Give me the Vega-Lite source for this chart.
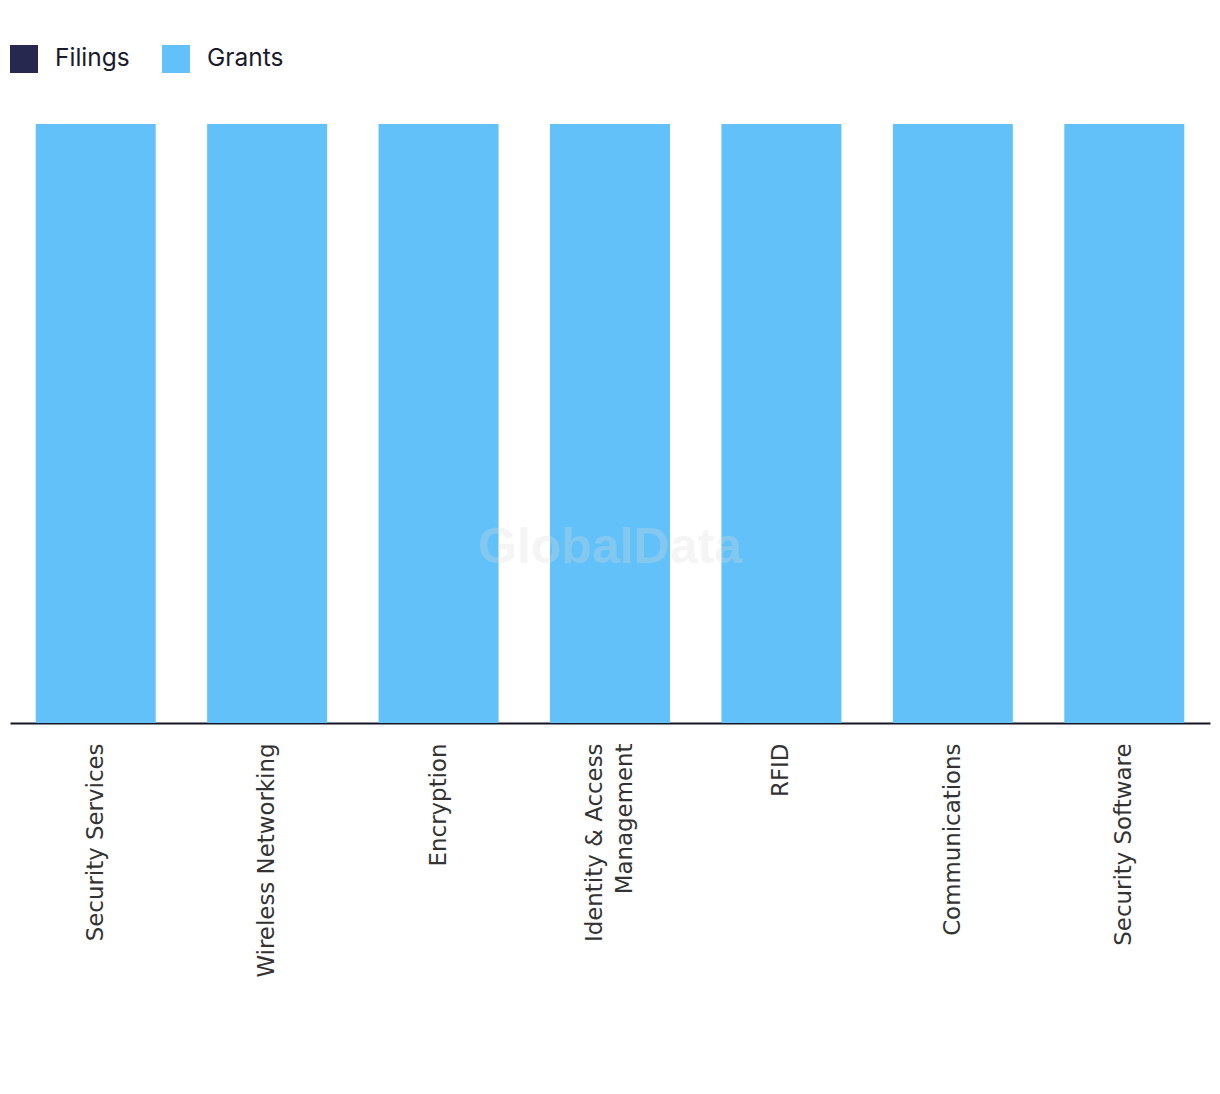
{
  "$schema": "https://vega.github.io/schema/vega-lite/v6.json",
  "width": 1200,
  "height": 599,
  "padding": {"left": 10, "right": 10, "top": 45, "bottom": 10},
  "background": "white",
  "config": {
    "view": {"stroke": null},
    "font": "Liberation Sans"
  },
  "datasets": {
    "bars": [
      {"technology": "Security Services", "type": "Filings", "value": 0},
      {"technology": "Security Services", "type": "Grants", "value": 1},
      {"technology": "Wireless Networking", "type": "Filings", "value": 0},
      {"technology": "Wireless Networking", "type": "Grants", "value": 1},
      {"technology": "Encryption", "type": "Filings", "value": 0},
      {"technology": "Encryption", "type": "Grants", "value": 1},
      {"technology": "Identity & Access Management", "type": "Filings", "value": 0},
      {"technology": "Identity & Access Management", "type": "Grants", "value": 1},
      {"technology": "RFID", "type": "Filings", "value": 0},
      {"technology": "RFID", "type": "Grants", "value": 1},
      {"technology": "Communications", "type": "Filings", "value": 0},
      {"technology": "Communications", "type": "Grants", "value": 1},
      {"technology": "Security Software", "type": "Filings", "value": 0},
      {"technology": "Security Software", "type": "Grants", "value": 1}
    ],
    "mark": [
      {"technology": "Identity & Access Management", "pos": 0.292, "label": "GlobalData"}
    ]
  },
  "layer": [
    {
      "data": {"name": "bars"},
      "mark": {"type": "bar"},
      "encoding": {
        "x": {
          "field": "technology",
          "type": "nominal",
          "sort": null,
          "scale": {"paddingInner": 0.3, "paddingOuter": 0.15},
          "axis": {
            "title": null,
            "labelAngle": -90,
            "labelAlign": "right",
            "labelBaseline": "middle",
            "labelFont": "DejaVu Sans",
            "labelFontSize": 22.9,
            "labelColor": "#333333",
            "labelPadding": 20,
            "labelLimit": 400,
            "labelLineHeight": 30,
            "labelOffset": {"condition": {"test": "datum.value == 'Identity & Access Management'", "value": -15}, "value": 0},
            "labelExpr": "datum.label == 'Identity & Access Management' ? ['Identity & Access', 'Management'] : datum.label",
            "ticks": false,
            "domainColor": "#151525",
            "domainWidth": 2
          }
        },
        "y": {
          "field": "value",
          "type": "quantitative",
          "stack": "normalize",
          "scale": {"domain": [0, 1]},
          "axis": null
        },
        "color": {
          "field": "type",
          "type": "nominal",
          "scale": {"domain": ["Filings", "Grants"], "range": ["#262850", "#62c1f9"]},
          "legend": {
            "title": null,
            "orient": "top",
            "direction": "horizontal",
            "symbolType": "square",
            "symbolSize": 784,
            "symbolStrokeWidth": 0,
            "symbolOpacity": 1,
            "labelFontSize": 24.5,
            "labelFont": "Inter",
            "labelColor": "#1a1a2e",
            "labelOffset": 17,
            "columnPadding": 32,
            "offset": 51,
            "padding": 0
          }
        }
      }
    },
    {
      "data": {"name": "mark"},
      "mark": {
        "type": "text",
        "fontSize": 50,
        "fontWeight": "bold",
        "font": "Liberation Sans",
        "color": "#dcdcdc",
        "opacity": 0.28,
        "align": "center",
        "baseline": "middle"
      },
      "encoding": {
        "x": {"field": "technology", "type": "nominal", "sort": null},
        "y": {"field": "pos", "type": "quantitative"},
        "text": {"field": "label"}
      }
    }
  ]
}
